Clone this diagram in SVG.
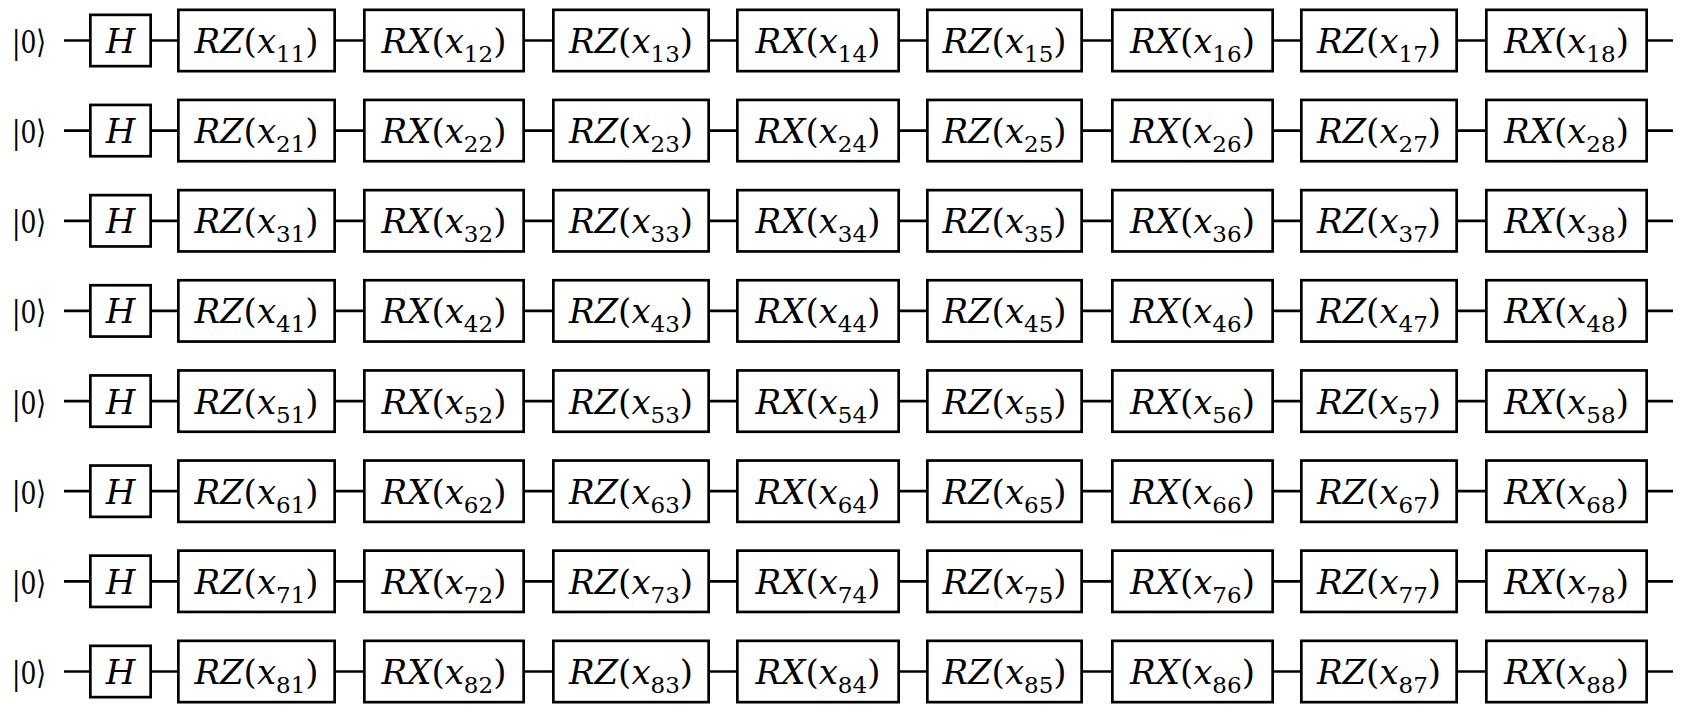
<svg xmlns="http://www.w3.org/2000/svg" width="1682" height="716" viewBox="0 0 1682 716" font-family="DejaVu Serif, Liberation Serif, serif">
<style>
.b{fill:#fff;stroke:#000;stroke-width:2.7}
.w{stroke:#000;stroke-width:2.7;fill:none}
.t{font-size:34px;text-anchor:middle;fill:#000}
.i{font-style:italic}
.s{font-size:23px}
.k{font-size:32px;fill:#000}
</style>
<rect width="1682" height="716" fill="#fff"/>
<g id="connectors" class="w">
<path d="M64 40.5H1673M64 130.6H1673M64 220.8H1673M64 310.9H1673M64 401.1H1673M64 491.2H1673M64 581.3H1673M64 671.5H1673"/>
</g>
<g id="row1" transform="translate(0,40.5)">
<g id="q1"><text class="k" x="12" y="12.5" textLength="34" lengthAdjust="spacingAndGlyphs">|0⟩</text></g>
<g id="h1"><rect class="b" x="90.35" y="-25.65" width="60.3" height="51.3"/><text class="t i" x="120.5" y="12.5">H</text></g>
<g id="g11"><rect class="b" x="178.35" y="-30.65" width="156.3" height="61.3"/><text class="t" x="256.5" y="12.5"><tspan class="i">RZ</tspan>(<tspan class="i">x</tspan><tspan class="s" dy="9">11</tspan><tspan dy="-9">)</tspan></text></g>
<g id="g12"><rect class="b" x="364.35" y="-30.65" width="159.3" height="61.3"/><text class="t" x="444" y="12.5"><tspan class="i">RX</tspan>(<tspan class="i">x</tspan><tspan class="s" dy="9">12</tspan><tspan dy="-9">)</tspan></text></g>
<g id="g13"><rect class="b" x="553.35" y="-30.65" width="155.3" height="61.3"/><text class="t" x="631" y="12.5"><tspan class="i">RZ</tspan>(<tspan class="i">x</tspan><tspan class="s" dy="9">13</tspan><tspan dy="-9">)</tspan></text></g>
<g id="g14"><rect class="b" x="737.35" y="-30.65" width="161.3" height="61.3"/><text class="t" x="818" y="12.5"><tspan class="i">RX</tspan>(<tspan class="i">x</tspan><tspan class="s" dy="9">14</tspan><tspan dy="-9">)</tspan></text></g>
<g id="g15"><rect class="b" x="927.35" y="-30.65" width="154.3" height="61.3"/><text class="t" x="1004.5" y="12.5"><tspan class="i">RZ</tspan>(<tspan class="i">x</tspan><tspan class="s" dy="9">15</tspan><tspan dy="-9">)</tspan></text></g>
<g id="g16"><rect class="b" x="1112.35" y="-30.65" width="160.3" height="61.3"/><text class="t" x="1192.5" y="12.5"><tspan class="i">RX</tspan>(<tspan class="i">x</tspan><tspan class="s" dy="9">16</tspan><tspan dy="-9">)</tspan></text></g>
<g id="g17"><rect class="b" x="1301.35" y="-30.65" width="155.3" height="61.3"/><text class="t" x="1379" y="12.5"><tspan class="i">RZ</tspan>(<tspan class="i">x</tspan><tspan class="s" dy="9">17</tspan><tspan dy="-9">)</tspan></text></g>
<g id="g18"><rect class="b" x="1486.35" y="-30.65" width="160.3" height="61.3"/><text class="t" x="1566.5" y="12.5"><tspan class="i">RX</tspan>(<tspan class="i">x</tspan><tspan class="s" dy="9">18</tspan><tspan dy="-9">)</tspan></text></g>
</g>
<g id="row2" transform="translate(0,130.6)">
<g id="q2"><text class="k" x="12" y="12.5" textLength="34" lengthAdjust="spacingAndGlyphs">|0⟩</text></g>
<g id="h2"><rect class="b" x="90.35" y="-25.65" width="60.3" height="51.3"/><text class="t i" x="120.5" y="12.5">H</text></g>
<g id="g21"><rect class="b" x="178.35" y="-30.65" width="156.3" height="61.3"/><text class="t" x="256.5" y="12.5"><tspan class="i">RZ</tspan>(<tspan class="i">x</tspan><tspan class="s" dy="9">21</tspan><tspan dy="-9">)</tspan></text></g>
<g id="g22"><rect class="b" x="364.35" y="-30.65" width="159.3" height="61.3"/><text class="t" x="444" y="12.5"><tspan class="i">RX</tspan>(<tspan class="i">x</tspan><tspan class="s" dy="9">22</tspan><tspan dy="-9">)</tspan></text></g>
<g id="g23"><rect class="b" x="553.35" y="-30.65" width="155.3" height="61.3"/><text class="t" x="631" y="12.5"><tspan class="i">RZ</tspan>(<tspan class="i">x</tspan><tspan class="s" dy="9">23</tspan><tspan dy="-9">)</tspan></text></g>
<g id="g24"><rect class="b" x="737.35" y="-30.65" width="161.3" height="61.3"/><text class="t" x="818" y="12.5"><tspan class="i">RX</tspan>(<tspan class="i">x</tspan><tspan class="s" dy="9">24</tspan><tspan dy="-9">)</tspan></text></g>
<g id="g25"><rect class="b" x="927.35" y="-30.65" width="154.3" height="61.3"/><text class="t" x="1004.5" y="12.5"><tspan class="i">RZ</tspan>(<tspan class="i">x</tspan><tspan class="s" dy="9">25</tspan><tspan dy="-9">)</tspan></text></g>
<g id="g26"><rect class="b" x="1112.35" y="-30.65" width="160.3" height="61.3"/><text class="t" x="1192.5" y="12.5"><tspan class="i">RX</tspan>(<tspan class="i">x</tspan><tspan class="s" dy="9">26</tspan><tspan dy="-9">)</tspan></text></g>
<g id="g27"><rect class="b" x="1301.35" y="-30.65" width="155.3" height="61.3"/><text class="t" x="1379" y="12.5"><tspan class="i">RZ</tspan>(<tspan class="i">x</tspan><tspan class="s" dy="9">27</tspan><tspan dy="-9">)</tspan></text></g>
<g id="g28"><rect class="b" x="1486.35" y="-30.65" width="160.3" height="61.3"/><text class="t" x="1566.5" y="12.5"><tspan class="i">RX</tspan>(<tspan class="i">x</tspan><tspan class="s" dy="9">28</tspan><tspan dy="-9">)</tspan></text></g>
</g>
<g id="row3" transform="translate(0,220.8)">
<g id="q3"><text class="k" x="12" y="12.5" textLength="34" lengthAdjust="spacingAndGlyphs">|0⟩</text></g>
<g id="h3"><rect class="b" x="90.35" y="-25.65" width="60.3" height="51.3"/><text class="t i" x="120.5" y="12.5">H</text></g>
<g id="g31"><rect class="b" x="178.35" y="-30.65" width="156.3" height="61.3"/><text class="t" x="256.5" y="12.5"><tspan class="i">RZ</tspan>(<tspan class="i">x</tspan><tspan class="s" dy="9">31</tspan><tspan dy="-9">)</tspan></text></g>
<g id="g32"><rect class="b" x="364.35" y="-30.65" width="159.3" height="61.3"/><text class="t" x="444" y="12.5"><tspan class="i">RX</tspan>(<tspan class="i">x</tspan><tspan class="s" dy="9">32</tspan><tspan dy="-9">)</tspan></text></g>
<g id="g33"><rect class="b" x="553.35" y="-30.65" width="155.3" height="61.3"/><text class="t" x="631" y="12.5"><tspan class="i">RZ</tspan>(<tspan class="i">x</tspan><tspan class="s" dy="9">33</tspan><tspan dy="-9">)</tspan></text></g>
<g id="g34"><rect class="b" x="737.35" y="-30.65" width="161.3" height="61.3"/><text class="t" x="818" y="12.5"><tspan class="i">RX</tspan>(<tspan class="i">x</tspan><tspan class="s" dy="9">34</tspan><tspan dy="-9">)</tspan></text></g>
<g id="g35"><rect class="b" x="927.35" y="-30.65" width="154.3" height="61.3"/><text class="t" x="1004.5" y="12.5"><tspan class="i">RZ</tspan>(<tspan class="i">x</tspan><tspan class="s" dy="9">35</tspan><tspan dy="-9">)</tspan></text></g>
<g id="g36"><rect class="b" x="1112.35" y="-30.65" width="160.3" height="61.3"/><text class="t" x="1192.5" y="12.5"><tspan class="i">RX</tspan>(<tspan class="i">x</tspan><tspan class="s" dy="9">36</tspan><tspan dy="-9">)</tspan></text></g>
<g id="g37"><rect class="b" x="1301.35" y="-30.65" width="155.3" height="61.3"/><text class="t" x="1379" y="12.5"><tspan class="i">RZ</tspan>(<tspan class="i">x</tspan><tspan class="s" dy="9">37</tspan><tspan dy="-9">)</tspan></text></g>
<g id="g38"><rect class="b" x="1486.35" y="-30.65" width="160.3" height="61.3"/><text class="t" x="1566.5" y="12.5"><tspan class="i">RX</tspan>(<tspan class="i">x</tspan><tspan class="s" dy="9">38</tspan><tspan dy="-9">)</tspan></text></g>
</g>
<g id="row4" transform="translate(0,310.9)">
<g id="q4"><text class="k" x="12" y="12.5" textLength="34" lengthAdjust="spacingAndGlyphs">|0⟩</text></g>
<g id="h4"><rect class="b" x="90.35" y="-25.65" width="60.3" height="51.3"/><text class="t i" x="120.5" y="12.5">H</text></g>
<g id="g41"><rect class="b" x="178.35" y="-30.65" width="156.3" height="61.3"/><text class="t" x="256.5" y="12.5"><tspan class="i">RZ</tspan>(<tspan class="i">x</tspan><tspan class="s" dy="9">41</tspan><tspan dy="-9">)</tspan></text></g>
<g id="g42"><rect class="b" x="364.35" y="-30.65" width="159.3" height="61.3"/><text class="t" x="444" y="12.5"><tspan class="i">RX</tspan>(<tspan class="i">x</tspan><tspan class="s" dy="9">42</tspan><tspan dy="-9">)</tspan></text></g>
<g id="g43"><rect class="b" x="553.35" y="-30.65" width="155.3" height="61.3"/><text class="t" x="631" y="12.5"><tspan class="i">RZ</tspan>(<tspan class="i">x</tspan><tspan class="s" dy="9">43</tspan><tspan dy="-9">)</tspan></text></g>
<g id="g44"><rect class="b" x="737.35" y="-30.65" width="161.3" height="61.3"/><text class="t" x="818" y="12.5"><tspan class="i">RX</tspan>(<tspan class="i">x</tspan><tspan class="s" dy="9">44</tspan><tspan dy="-9">)</tspan></text></g>
<g id="g45"><rect class="b" x="927.35" y="-30.65" width="154.3" height="61.3"/><text class="t" x="1004.5" y="12.5"><tspan class="i">RZ</tspan>(<tspan class="i">x</tspan><tspan class="s" dy="9">45</tspan><tspan dy="-9">)</tspan></text></g>
<g id="g46"><rect class="b" x="1112.35" y="-30.65" width="160.3" height="61.3"/><text class="t" x="1192.5" y="12.5"><tspan class="i">RX</tspan>(<tspan class="i">x</tspan><tspan class="s" dy="9">46</tspan><tspan dy="-9">)</tspan></text></g>
<g id="g47"><rect class="b" x="1301.35" y="-30.65" width="155.3" height="61.3"/><text class="t" x="1379" y="12.5"><tspan class="i">RZ</tspan>(<tspan class="i">x</tspan><tspan class="s" dy="9">47</tspan><tspan dy="-9">)</tspan></text></g>
<g id="g48"><rect class="b" x="1486.35" y="-30.65" width="160.3" height="61.3"/><text class="t" x="1566.5" y="12.5"><tspan class="i">RX</tspan>(<tspan class="i">x</tspan><tspan class="s" dy="9">48</tspan><tspan dy="-9">)</tspan></text></g>
</g>
<g id="row5" transform="translate(0,401.1)">
<g id="q5"><text class="k" x="12" y="12.5" textLength="34" lengthAdjust="spacingAndGlyphs">|0⟩</text></g>
<g id="h5"><rect class="b" x="90.35" y="-25.65" width="60.3" height="51.3"/><text class="t i" x="120.5" y="12.5">H</text></g>
<g id="g51"><rect class="b" x="178.35" y="-30.65" width="156.3" height="61.3"/><text class="t" x="256.5" y="12.5"><tspan class="i">RZ</tspan>(<tspan class="i">x</tspan><tspan class="s" dy="9">51</tspan><tspan dy="-9">)</tspan></text></g>
<g id="g52"><rect class="b" x="364.35" y="-30.65" width="159.3" height="61.3"/><text class="t" x="444" y="12.5"><tspan class="i">RX</tspan>(<tspan class="i">x</tspan><tspan class="s" dy="9">52</tspan><tspan dy="-9">)</tspan></text></g>
<g id="g53"><rect class="b" x="553.35" y="-30.65" width="155.3" height="61.3"/><text class="t" x="631" y="12.5"><tspan class="i">RZ</tspan>(<tspan class="i">x</tspan><tspan class="s" dy="9">53</tspan><tspan dy="-9">)</tspan></text></g>
<g id="g54"><rect class="b" x="737.35" y="-30.65" width="161.3" height="61.3"/><text class="t" x="818" y="12.5"><tspan class="i">RX</tspan>(<tspan class="i">x</tspan><tspan class="s" dy="9">54</tspan><tspan dy="-9">)</tspan></text></g>
<g id="g55"><rect class="b" x="927.35" y="-30.65" width="154.3" height="61.3"/><text class="t" x="1004.5" y="12.5"><tspan class="i">RZ</tspan>(<tspan class="i">x</tspan><tspan class="s" dy="9">55</tspan><tspan dy="-9">)</tspan></text></g>
<g id="g56"><rect class="b" x="1112.35" y="-30.65" width="160.3" height="61.3"/><text class="t" x="1192.5" y="12.5"><tspan class="i">RX</tspan>(<tspan class="i">x</tspan><tspan class="s" dy="9">56</tspan><tspan dy="-9">)</tspan></text></g>
<g id="g57"><rect class="b" x="1301.35" y="-30.65" width="155.3" height="61.3"/><text class="t" x="1379" y="12.5"><tspan class="i">RZ</tspan>(<tspan class="i">x</tspan><tspan class="s" dy="9">57</tspan><tspan dy="-9">)</tspan></text></g>
<g id="g58"><rect class="b" x="1486.35" y="-30.65" width="160.3" height="61.3"/><text class="t" x="1566.5" y="12.5"><tspan class="i">RX</tspan>(<tspan class="i">x</tspan><tspan class="s" dy="9">58</tspan><tspan dy="-9">)</tspan></text></g>
</g>
<g id="row6" transform="translate(0,491.2)">
<g id="q6"><text class="k" x="12" y="12.5" textLength="34" lengthAdjust="spacingAndGlyphs">|0⟩</text></g>
<g id="h6"><rect class="b" x="90.35" y="-25.65" width="60.3" height="51.3"/><text class="t i" x="120.5" y="12.5">H</text></g>
<g id="g61"><rect class="b" x="178.35" y="-30.65" width="156.3" height="61.3"/><text class="t" x="256.5" y="12.5"><tspan class="i">RZ</tspan>(<tspan class="i">x</tspan><tspan class="s" dy="9">61</tspan><tspan dy="-9">)</tspan></text></g>
<g id="g62"><rect class="b" x="364.35" y="-30.65" width="159.3" height="61.3"/><text class="t" x="444" y="12.5"><tspan class="i">RX</tspan>(<tspan class="i">x</tspan><tspan class="s" dy="9">62</tspan><tspan dy="-9">)</tspan></text></g>
<g id="g63"><rect class="b" x="553.35" y="-30.65" width="155.3" height="61.3"/><text class="t" x="631" y="12.5"><tspan class="i">RZ</tspan>(<tspan class="i">x</tspan><tspan class="s" dy="9">63</tspan><tspan dy="-9">)</tspan></text></g>
<g id="g64"><rect class="b" x="737.35" y="-30.65" width="161.3" height="61.3"/><text class="t" x="818" y="12.5"><tspan class="i">RX</tspan>(<tspan class="i">x</tspan><tspan class="s" dy="9">64</tspan><tspan dy="-9">)</tspan></text></g>
<g id="g65"><rect class="b" x="927.35" y="-30.65" width="154.3" height="61.3"/><text class="t" x="1004.5" y="12.5"><tspan class="i">RZ</tspan>(<tspan class="i">x</tspan><tspan class="s" dy="9">65</tspan><tspan dy="-9">)</tspan></text></g>
<g id="g66"><rect class="b" x="1112.35" y="-30.65" width="160.3" height="61.3"/><text class="t" x="1192.5" y="12.5"><tspan class="i">RX</tspan>(<tspan class="i">x</tspan><tspan class="s" dy="9">66</tspan><tspan dy="-9">)</tspan></text></g>
<g id="g67"><rect class="b" x="1301.35" y="-30.65" width="155.3" height="61.3"/><text class="t" x="1379" y="12.5"><tspan class="i">RZ</tspan>(<tspan class="i">x</tspan><tspan class="s" dy="9">67</tspan><tspan dy="-9">)</tspan></text></g>
<g id="g68"><rect class="b" x="1486.35" y="-30.65" width="160.3" height="61.3"/><text class="t" x="1566.5" y="12.5"><tspan class="i">RX</tspan>(<tspan class="i">x</tspan><tspan class="s" dy="9">68</tspan><tspan dy="-9">)</tspan></text></g>
</g>
<g id="row7" transform="translate(0,581.3)">
<g id="q7"><text class="k" x="12" y="12.5" textLength="34" lengthAdjust="spacingAndGlyphs">|0⟩</text></g>
<g id="h7"><rect class="b" x="90.35" y="-25.65" width="60.3" height="51.3"/><text class="t i" x="120.5" y="12.5">H</text></g>
<g id="g71"><rect class="b" x="178.35" y="-30.65" width="156.3" height="61.3"/><text class="t" x="256.5" y="12.5"><tspan class="i">RZ</tspan>(<tspan class="i">x</tspan><tspan class="s" dy="9">71</tspan><tspan dy="-9">)</tspan></text></g>
<g id="g72"><rect class="b" x="364.35" y="-30.65" width="159.3" height="61.3"/><text class="t" x="444" y="12.5"><tspan class="i">RX</tspan>(<tspan class="i">x</tspan><tspan class="s" dy="9">72</tspan><tspan dy="-9">)</tspan></text></g>
<g id="g73"><rect class="b" x="553.35" y="-30.65" width="155.3" height="61.3"/><text class="t" x="631" y="12.5"><tspan class="i">RZ</tspan>(<tspan class="i">x</tspan><tspan class="s" dy="9">73</tspan><tspan dy="-9">)</tspan></text></g>
<g id="g74"><rect class="b" x="737.35" y="-30.65" width="161.3" height="61.3"/><text class="t" x="818" y="12.5"><tspan class="i">RX</tspan>(<tspan class="i">x</tspan><tspan class="s" dy="9">74</tspan><tspan dy="-9">)</tspan></text></g>
<g id="g75"><rect class="b" x="927.35" y="-30.65" width="154.3" height="61.3"/><text class="t" x="1004.5" y="12.5"><tspan class="i">RZ</tspan>(<tspan class="i">x</tspan><tspan class="s" dy="9">75</tspan><tspan dy="-9">)</tspan></text></g>
<g id="g76"><rect class="b" x="1112.35" y="-30.65" width="160.3" height="61.3"/><text class="t" x="1192.5" y="12.5"><tspan class="i">RX</tspan>(<tspan class="i">x</tspan><tspan class="s" dy="9">76</tspan><tspan dy="-9">)</tspan></text></g>
<g id="g77"><rect class="b" x="1301.35" y="-30.65" width="155.3" height="61.3"/><text class="t" x="1379" y="12.5"><tspan class="i">RZ</tspan>(<tspan class="i">x</tspan><tspan class="s" dy="9">77</tspan><tspan dy="-9">)</tspan></text></g>
<g id="g78"><rect class="b" x="1486.35" y="-30.65" width="160.3" height="61.3"/><text class="t" x="1566.5" y="12.5"><tspan class="i">RX</tspan>(<tspan class="i">x</tspan><tspan class="s" dy="9">78</tspan><tspan dy="-9">)</tspan></text></g>
</g>
<g id="row8" transform="translate(0,671.5)">
<g id="q8"><text class="k" x="12" y="12.5" textLength="34" lengthAdjust="spacingAndGlyphs">|0⟩</text></g>
<g id="h8"><rect class="b" x="90.35" y="-25.65" width="60.3" height="51.3"/><text class="t i" x="120.5" y="12.5">H</text></g>
<g id="g81"><rect class="b" x="178.35" y="-30.65" width="156.3" height="61.3"/><text class="t" x="256.5" y="12.5"><tspan class="i">RZ</tspan>(<tspan class="i">x</tspan><tspan class="s" dy="9">81</tspan><tspan dy="-9">)</tspan></text></g>
<g id="g82"><rect class="b" x="364.35" y="-30.65" width="159.3" height="61.3"/><text class="t" x="444" y="12.5"><tspan class="i">RX</tspan>(<tspan class="i">x</tspan><tspan class="s" dy="9">82</tspan><tspan dy="-9">)</tspan></text></g>
<g id="g83"><rect class="b" x="553.35" y="-30.65" width="155.3" height="61.3"/><text class="t" x="631" y="12.5"><tspan class="i">RZ</tspan>(<tspan class="i">x</tspan><tspan class="s" dy="9">83</tspan><tspan dy="-9">)</tspan></text></g>
<g id="g84"><rect class="b" x="737.35" y="-30.65" width="161.3" height="61.3"/><text class="t" x="818" y="12.5"><tspan class="i">RX</tspan>(<tspan class="i">x</tspan><tspan class="s" dy="9">84</tspan><tspan dy="-9">)</tspan></text></g>
<g id="g85"><rect class="b" x="927.35" y="-30.65" width="154.3" height="61.3"/><text class="t" x="1004.5" y="12.5"><tspan class="i">RZ</tspan>(<tspan class="i">x</tspan><tspan class="s" dy="9">85</tspan><tspan dy="-9">)</tspan></text></g>
<g id="g86"><rect class="b" x="1112.35" y="-30.65" width="160.3" height="61.3"/><text class="t" x="1192.5" y="12.5"><tspan class="i">RX</tspan>(<tspan class="i">x</tspan><tspan class="s" dy="9">86</tspan><tspan dy="-9">)</tspan></text></g>
<g id="g87"><rect class="b" x="1301.35" y="-30.65" width="155.3" height="61.3"/><text class="t" x="1379" y="12.5"><tspan class="i">RZ</tspan>(<tspan class="i">x</tspan><tspan class="s" dy="9">87</tspan><tspan dy="-9">)</tspan></text></g>
<g id="g88"><rect class="b" x="1486.35" y="-30.65" width="160.3" height="61.3"/><text class="t" x="1566.5" y="12.5"><tspan class="i">RX</tspan>(<tspan class="i">x</tspan><tspan class="s" dy="9">88</tspan><tspan dy="-9">)</tspan></text></g>
</g>
</svg>
